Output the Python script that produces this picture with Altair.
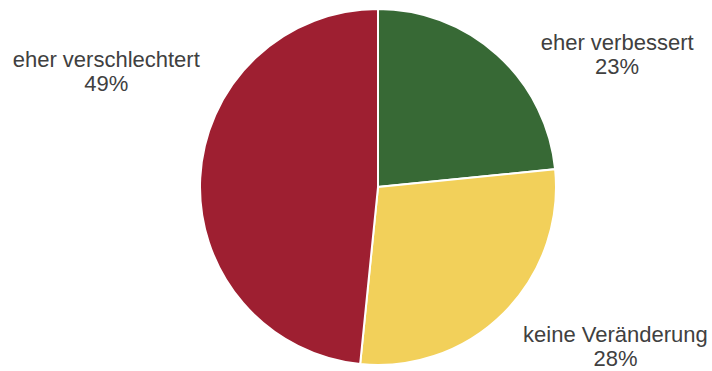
import altair as alt
import pandas as pd

categories = ["eher verbessert", "keine Veränderung", "eher verschlechtert"]
values = [23.4, 28.2, 48.4]
labels = ["23%", "28%", "49%"]
colors = ["#376935", "#F2D05A", "#9E1F31"]

df = pd.DataFrame({"cat": categories, "val": values, "pct": labels, "order": [0, 1, 2]})
df["label"] = df["cat"] + "\n" + df["pct"]

base = alt.Chart(df).encode(
    theta=alt.Theta("val:Q", stack=True),
    order=alt.Order("order:Q"),
)

pie = base.mark_arc(outerRadius=178, stroke="white", strokeWidth=2).encode(
    color=alt.Color("cat:N", scale=alt.Scale(domain=categories, range=colors), legend=None)
)

offsets = {"eher verbessert": (105, 4), "keine Veränderung": (96, 7), "eher verschlechtert": (-72, -117)}
layers = [pie]
for c in categories:
    dx, dy = offsets[c]
    layers.append(
        base.mark_text(radius=200, fontSize=22, font="Liberation Sans", color="#404040",
                       lineBreak="\n", dx=dx, dy=dy, align="center", baseline="middle", lineHeight=24)
        .encode(text="label:N", opacity=alt.condition(alt.datum.cat == c, alt.value(1), alt.value(0)))
    )

chart = alt.layer(*layers).properties(
    width=664, height=368,
    padding={"left": 46, "top": 3, "right": 2, "bottom": 0},
    autosize=alt.AutoSizeParams(type="none"),
).configure_view(stroke=None)

chart.save("out.html", embed_options={"renderer": "svg", "actions": False})
